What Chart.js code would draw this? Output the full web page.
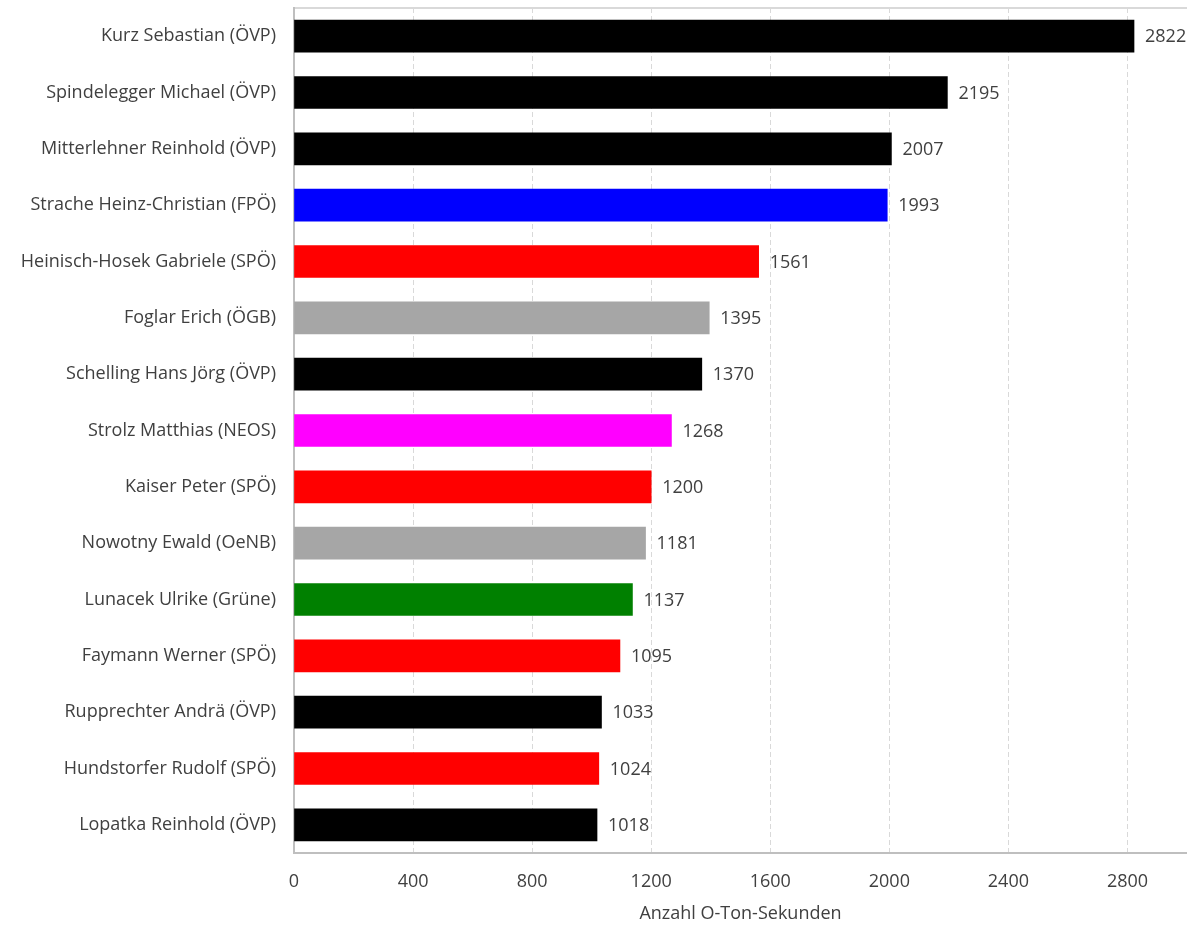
<!DOCTYPE html>
<html>
<head>
<meta charset="utf-8">
<script src="https://cdn.jsdelivr.net/npm/chart.js@4/dist/chart.umd.min.js"></script>
<style>
  html, body { margin: 0; padding: 0; background: #ffffff; }
  #wrap { width: 1187px; height: 925px; position: relative; }
</style>
</head>
<body>
<div id="wrap"><canvas id="chart"></canvas></div>
<script>
const politicians = [
    'Kurz Sebastian (ÖVP)',
    'Spindelegger Michael (ÖVP)',
    'Mitterlehner Reinhold (ÖVP)',
    'Strache Heinz-Christian (FPÖ)',
    'Heinisch-Hosek Gabriele (SPÖ)',
    'Foglar Erich (ÖGB)',
    'Schelling Hans Jörg (ÖVP)',
    'Strolz Matthias (NEOS)',
    'Kaiser Peter (SPÖ)',
    'Nowotny Ewald (OeNB)',
    'Lunacek Ulrike (Grüne)',
    'Faymann Werner (SPÖ)',
    'Rupprechter Andrä (ÖVP)',
    'Hundstorfer Rudolf (SPÖ)',
    'Lopatka Reinhold (ÖVP)'
];
const seconds = [2822, 2195, 2007, 1993, 1561, 1395, 1370, 1268, 1200, 1181, 1137, 1095, 1033, 1024, 1018];
const parties = ['ÖVP', 'ÖVP', 'ÖVP', 'FPÖ', 'SPÖ', 'ÖGB', 'ÖVP', 'NEOS', 'SPÖ', 'OeNB', 'Grüne', 'SPÖ', 'ÖVP', 'SPÖ', 'ÖVP'];
const xTicks = [0, 400, 800, 1200, 1600, 2000, 2400, 2800];

const partyColors = {
    'ÖVP': '#000000',
    'FPÖ': '#0000ff',
    'SPÖ': '#ff0000',
    'ÖGB': '#a6a6a6',
    'OeNB': '#a6a6a6',
    'NEOS': '#ff00ff',
    'Grüne': '#008000'
};

const textColor = '#404040';
const fontFamily = "'Open Sans', sans-serif";

// draws the number next to each bar end
const valueLabels = {
    id: 'valueLabels',
    afterDatasetsDraw(chart) {
        const ctx = chart.ctx;
        const meta = chart.getDatasetMeta(0);
        ctx.save();
        ctx.font = '18px ' + fontFamily;
        ctx.fillStyle = textColor;
        ctx.textAlign = 'left';
        ctx.textBaseline = 'middle';
        meta.data.forEach((bar, i) => {
            ctx.fillText(String(seconds[i]), bar.x + 11, bar.y + 1);
        });
        ctx.restore();
    }
};

new Chart(document.getElementById('chart'), {
    type: 'bar',
    data: {
        labels: politicians,
        datasets: [{
            label: 'Anzahl O-Ton-Sekunden',
            data: seconds,
            backgroundColor: parties.map(p => partyColors[p]),
            borderWidth: 0,
            barThickness: 32
        }]
    },
    options: {
        indexAxis: 'y',
        responsive: true,
        maintainAspectRatio: false,
        animation: false,
        layout: {
            padding: { top: 8, right: 0, bottom: 0, left: 0 }
        },
        scales: {
            x: {
                min: 0,
                max: 3000,
                afterBuildTicks: (scale) => {
                    scale.ticks = xTicks.map(v => ({ value: v }));
                },
                afterFit: (scale) => {
                    scale.height = 72;
                    scale.paddingLeft = 0;
                    scale.paddingRight = 0;
                },
                grid: {
                    color: '#d9d9d9',
                    lineWidth: 1,
                    drawTicks: false
                },
                border: {
                    display: true,
                    color: '#bfbfbf',
                    width: 2,
                    dash: [5, 3]
                },
                ticks: {
                    color: textColor,
                    padding: 18,
                    maxRotation: 0,
                    font: { family: fontFamily, size: 18 },
                    callback: (value) => String(value)
                },
                title: {
                    display: true,
                    text: 'Anzahl O-Ton-Sekunden',
                    color: textColor,
                    padding: { top: 4, bottom: 0 },
                    font: { family: fontFamily, size: 18 }
                }
            },
            x2: {
                position: 'top',
                min: 0,
                max: 3000,
                afterFit: (scale) => {
                    scale.height = 0;
                    scale.paddingLeft = 0;
                    scale.paddingRight = 0;
                },
                grid: { display: false },
                ticks: { display: false },
                border: { display: true, color: '#d9d9d9', width: 2 }
            },
            y: {
                afterFit: (scale) => {
                    scale.width = 294;
                    scale.paddingTop = 0;
                    scale.paddingBottom = 0;
                },
                grid: { display: false },
                border: { display: true, color: '#bfbfbf', width: 2 },
                ticks: {
                    color: textColor,
                    padding: 10,
                    autoSkip: false,
                    font: { family: fontFamily, size: 18 }
                }
            }
        },
        plugins: {
            legend: { display: false },
            tooltip: { enabled: false }
        }
    },
    plugins: [valueLabels]
});
</script>
</body>
</html>
